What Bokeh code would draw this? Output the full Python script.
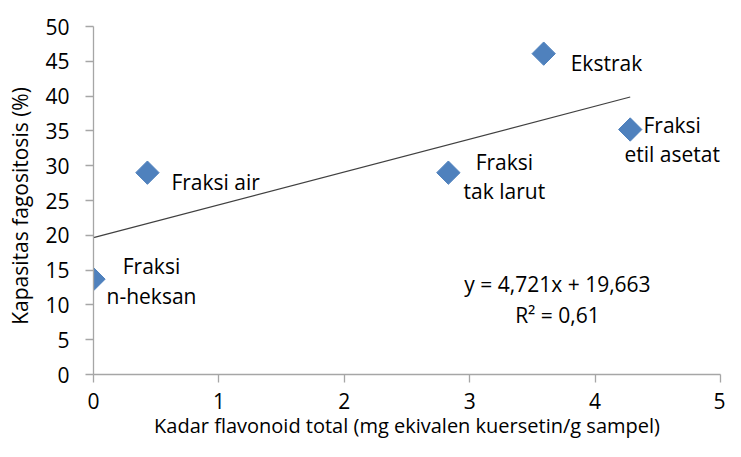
import math
from bokeh.plotting import figure
from bokeh.models import Range1d, FixedTicker, Label
from bokeh.embed import file_html
from bokeh.resources import INLINE

# Data
names = ["Fraksi\nn-heksan", "Fraksi air", "Fraksi\ntak larut", "Ekstrak", "Fraksi\netil asetat"]
flavonoid = [0.0, 0.43, 2.83, 3.59, 4.28]
fagositosis = [13.7, 29.0, 29.0, 46.1, 35.2]
slope = 4.721
intercept = 19.663
r2_text = "0,61"
x_ticks = [0, 1, 2, 3, 4, 5]
y_ticks = [0, 5, 10, 15, 20, 25, 30, 35, 40, 45, 50]

FONT = "Open Sans"
FS = "21px"
AXIS_COLOR = "#A6A6A6"
TEXT_COLOR = "#000000"

p = figure(width=725, height=441, output_backend="svg", toolbar_location=None,
           x_range=Range1d(0, 5), y_range=Range1d(0, 50),
           min_border_left=93, min_border_right=5, min_border_top=26, min_border_bottom=0)
p.outline_line_color = None
p.xgrid.grid_line_color = None
p.ygrid.grid_line_color = None
p.background_fill_color = "white"
p.border_fill_color = "white"

for ax in (p.xaxis[0], p.yaxis[0]):
    ax.axis_line_color = AXIS_COLOR
    ax.axis_line_width = 1.3
    ax.major_tick_line_color = AXIS_COLOR
    ax.major_tick_line_width = 1.3
    ax.major_tick_out = 8
    ax.major_tick_in = 0
    ax.minor_tick_line_color = None
    ax.major_label_text_font = FONT
    ax.major_label_text_font_size = FS
    ax.major_label_text_color = TEXT_COLOR
    ax.axis_label_text_font = FONT
    ax.axis_label_text_font_size = FS
    ax.axis_label_text_font_style = "normal"
    ax.axis_label_text_color = TEXT_COLOR

p.xaxis.ticker = FixedTicker(ticks=x_ticks)
p.yaxis.ticker = FixedTicker(ticks=y_ticks)
p.xaxis.major_label_standoff = 10
p.yaxis.major_label_standoff = 16
p.xaxis.axis_label = "Kadar flavonoid total (mg ekivalen kuersetin/g sampel)"
p.yaxis.axis_label = "Kapasitas  fagositosis  (%)"
p.xaxis.axis_label_text_font_size = "20px"
p.xaxis.axis_label_standoff = 0
p.yaxis.axis_label_standoff = 8

# trend line
x0, x1 = min(flavonoid), max(flavonoid)
p.line([x0, x1], [slope * x0 + intercept, slope * x1 + intercept],
       line_color="#404040", line_width=1.2)

# points (diamonds: rotated squares)
p.scatter(flavonoid, fagositosis, marker="square", size=16.5, angle=math.pi / 4,
          fill_color="#4F81BD", line_color="#4F81BD")

# point labels (pixel offsets from each point; Label y_offset is upward)
offsets = [(58, -2, "center"), (24, -9, "left"), (56, -4, "center"), (27, -9, "left"), (42, -10, "center")]
for nm, xv, yv, (dx, dy, al) in zip(names, flavonoid, fagositosis, offsets):
    p.add_layout(Label(x=xv, y=yv, text=nm, x_offset=dx, y_offset=dy,
                       text_align=al, text_baseline="middle", text_font=FONT,
                       text_font_size=FS, text_color=TEXT_COLOR, text_line_height=1.05))

eq = Label(x=3.70, y=10.8, text=f"y = {slope:.3f}x + {intercept:.3f}".replace(".", ",") + f"\nR² = {r2_text}",
           text_align="center", text_baseline="middle", text_font=FONT, text_font_size=FS,
           text_color=TEXT_COLOR, text_line_height=1.12)
p.add_layout(eq)

open("out.html", "w").write(file_html(p, INLINE))
